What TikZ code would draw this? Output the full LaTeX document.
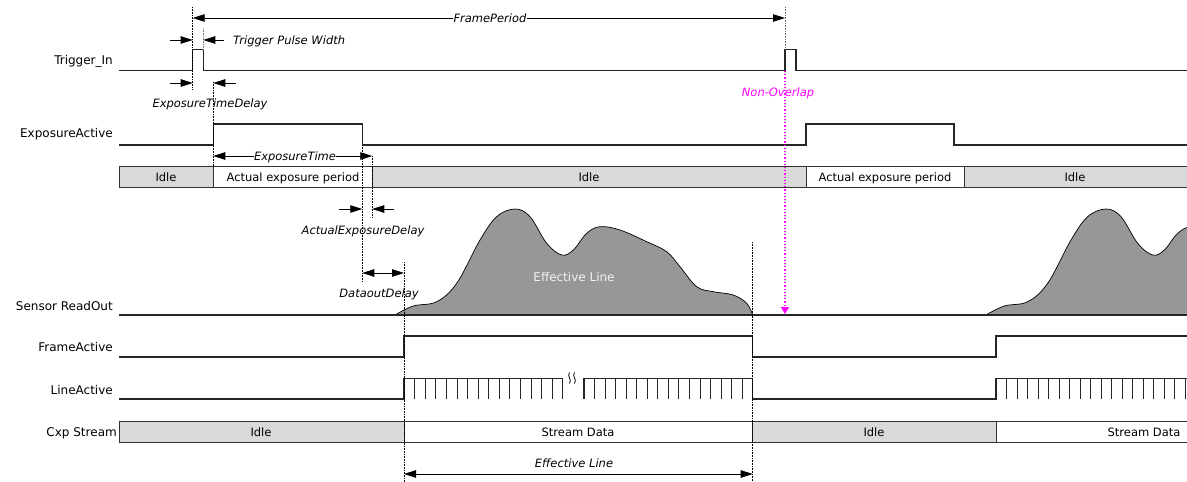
\documentclass[tikz,border=0pt]{standalone}
\usepackage{fontspec}
\setmainfont{DejaVu Sans}
\usetikzlibrary{arrows.meta}
\definecolor{idlegray}{HTML}{D9D9D9}
\definecolor{shapegray}{HTML}{979797}
\definecolor{nonov}{HTML}{FF00FF}
\begin{document}
\begin{tikzpicture}[x=1pt,y=-1pt,
  sig/.style={line width=1.1pt, draw=black!85},
  vguide/.style={densely dotted, line width=0.6pt, draw=black},
  dimone/.style={line width=0.8pt, -{Triangle[length=12pt,width=7.5pt]}},
  dimboth/.style={line width=0.8pt, {Triangle[length=12pt,width=7.5pt]}-{Triangle[length=12pt,width=7.5pt]}},
  lbl/.style={anchor=base east, font=\fontsize{12}{14}\selectfont, inner sep=0pt},
  ann/.style={anchor=base, font=\fontsize{11.5}{13}\selectfont\itshape, inner sep=1pt},
  bartxt/.style={anchor=base, font=\fontsize{11.5}{13}\selectfont, inner sep=0pt},
  idlebar/.style={fill=idlegray, draw=black!80, line width=0.8pt},
  busybar/.style={fill=white, draw=black!80, line width=0.8pt},
  effshape/.style={fill=shapegray, draw=black, line width=0.7pt},
]
\useasboundingbox (0,0) rectangle (1187,482);

% ---------- key times ----------
\coordinate (tTrig) at (192.7,0);
\coordinate (tTrigE) at (203.3,0);
\coordinate (tExp) at (213.3,0);
\coordinate (tExpE) at (362.3,0);
\coordinate (tAct) at (372.3,0);
\coordinate (tData) at (404,0);
\coordinate (tDataE) at (752.7,0);
\coordinate (tTrig2) at (785,0);

% ---------- signal labels ----------
\node[lbl] (lTrig) at (113,64.5) {Trigger\_In};
\node[lbl] (lExp) at (113,137.5) {ExposureActive};
\node[lbl] (lSens) at (113,310) {Sensor ReadOut};
\node[lbl] (lFrame) at (113,351.5) {FrameActive};
\node[lbl] (lLine) at (113,394.5) {LineActive};
\node[lbl] (lCxp) at (117,436.5) {Cxp Stream};

% ---------- Trigger_In ----------
\draw[sig] (119,70.5) -- (192.7,70.5) -- (192.7,49.3) -- (203.3,49.3) -- (203.3,70.5)
  -- (785,70.5) -- (785,49.3) -- (796,49.3) -- (796,70.5) -- (1187,70.5);

% ---------- ExposureActive ----------
\draw[sig] (119,145) -- (213.3,145) -- (213.3,124) -- (362.3,124) -- (362.3,145)
  -- (806,145) -- (806,124) -- (954,124) -- (954,145) -- (1187,145);

% ---------- exposure state bar ----------
\draw[idlebar] (119,166.7) rectangle (213.3,187.3);
\draw[busybar] (213.3,166.7) rectangle (372.3,187.3);
\draw[idlebar] (372.3,166.7) rectangle (806,187.3);
\draw[busybar] (806,166.7) rectangle (964.3,187.3);
\draw[idlebar] (964.3,166.7) rectangle (1190,187.3);
\node[bartxt] (b1) at (166,181) {Idle};
\node[bartxt] (b2) at (293,181) {Actual exposure period};
\node[bartxt] (b3) at (589,181) {Idle};
\node[bartxt] (b4) at (885,181) {Actual exposure period};
\node[bartxt] (b5) at (1075,181) {Idle};

% ---------- Sensor ReadOut ----------
\begin{scope}
\clip (0,0) rectangle (1187,482);
\foreach \dx in {0,591}{
  \begin{scope}[xshift=\dx]
  \draw[effshape] plot[smooth, tension=0.6] coordinates {
    (395,315) (413.3,306) (436.7,301.7) (456.7,283.3) (480,240) (496.7,216.7)
    (515,209) (530,216.7) (546.7,243.3) (561.7,255) (573.3,250) (586.7,233.3)
    (600,226.7) (620,230) (646.7,241.7) (666.7,251.7) (680,266.7) (696.7,286.7)
    (713.3,291.7) (733.3,295) (746.7,303.3) (752.7,315)} -- cycle;
  \end{scope}
}
\end{scope}
\draw[sig] (119,315) -- (1187,315);
\node[anchor=base, font=\fontsize{12}{14}\selectfont, text=black!5, inner sep=0pt] (eff) at (574,281) {Effective Line};

% ---------- FrameActive ----------
\draw[sig] (119,357) -- (404,357) -- (404,336) -- (752.7,336) -- (752.7,357)
  -- (996,357) -- (996,336) -- (1187,336);

% ---------- LineActive ----------
\draw[sig] (119,399) -- (404,399) -- (404,378.5) -- (562.7,378.5) -- (562.7,399);
\foreach \i in {1,...,14}{ \draw[line width=0.8pt, black!85] ({404+\i*10.58},378.5) -- ({404+\i*10.58},399); }
\draw[sig] (584,399) -- (584,378.5) -- (752.7,378.5) -- (752.7,399) -- (996,399) -- (996,378.5) -- (1187,378.5);
\foreach \i in {1,...,15}{ \draw[line width=0.8pt, black!85] ({584+\i*10.54},378.5) -- ({584+\i*10.54},399); }
\foreach \i in {1,...,18}{ \draw[line width=0.8pt, black!85] ({996+\i*10.5},378.5) -- ({996+\i*10.5},399); }
% break symbol
\draw[line width=0.8pt] (569.5,372.5) .. controls (566.5,376.5) and (572.5,379) .. (569.5,383.5);
\draw[line width=0.8pt] (574.5,372.5) .. controls (571.5,376.5) and (577.5,379) .. (574.5,383.5);

% ---------- Cxp Stream bar ----------
\draw[idlebar] (119,421.7) rectangle (404,442.3);
\draw[busybar] (404,421.7) rectangle (752.7,442.3);
\draw[idlebar] (752.7,421.7) rectangle (996,442.3);
\draw[busybar] (996,421.7) rectangle (1190,442.3);
\node[bartxt] (c1) at (261,436) {Idle};
\node[bartxt] (c2) at (578,436) {Stream Data};
\node[bartxt] (c3) at (874,436) {Idle};
\node[bartxt] (c4) at (1144,436) {Stream Data};

% ---------- guide lines ----------
\draw[vguide] (192.7,7) -- (192.7,90);
\draw[vguide, black!50] (203.3,28) -- (203.3,49);
\draw[vguide] (213.3,82) -- (213.3,166.7);
\draw[vguide] (372.3,156) -- (372.3,218);
\draw[vguide] (362.3,145) -- (362.3,282);
\draw[vguide] (404,262) -- (404,482);
\draw[vguide] (752.7,242) -- (752.7,482);
\draw[vguide, black!60] (785,7) -- (785,49.3);

% ---------- dimensions ----------
\draw[dimboth] (192.7,18) -- (785,18);
\node[ann, fill=white] (fp) at (490,22) {FramePeriod};

\draw[dimone] (170,40) -- (192.7,40);
\draw[dimone] (224,40) -- (203.3,40);
\node[ann, anchor=base west] (tpw) at (232,44.5) {Trigger Pulse Width};

\draw[dimone] (170,83) -- (192.7,83);
\draw[dimone] (236,83) -- (213.3,83);
\node[ann] (etd) at (210,107) {ExposureTimeDelay};

\draw[dimboth] (213.3,156) -- (372.3,156);
\node[ann, fill=white, inner sep=0.5pt] (et) at (295,160) {ExposureTime};

\draw[dimone] (339,209) -- (362.3,209);
\draw[dimone] (394,209) -- (372.3,209);
\node[ann] (aed) at (363,234) {ActualExposureDelay};

\draw[dimboth] (362.3,273) -- (404,273);
\node[ann] (dod) at (379,297) {DataoutDelay};

\draw[dimboth] (404,474) -- (752.7,474);
\node[ann] (efl) at (574,467.5) {Effective Line};

% ---------- non-overlap ----------
\draw[nonov, dotted, line width=1.2pt, -{Triangle[length=7pt,width=8pt]}] (785,71) -- (785,314);
\node[ann, text=nonov] (nol) at (778,96) {Non-Overlap};

\end{tikzpicture}
\end{document}
